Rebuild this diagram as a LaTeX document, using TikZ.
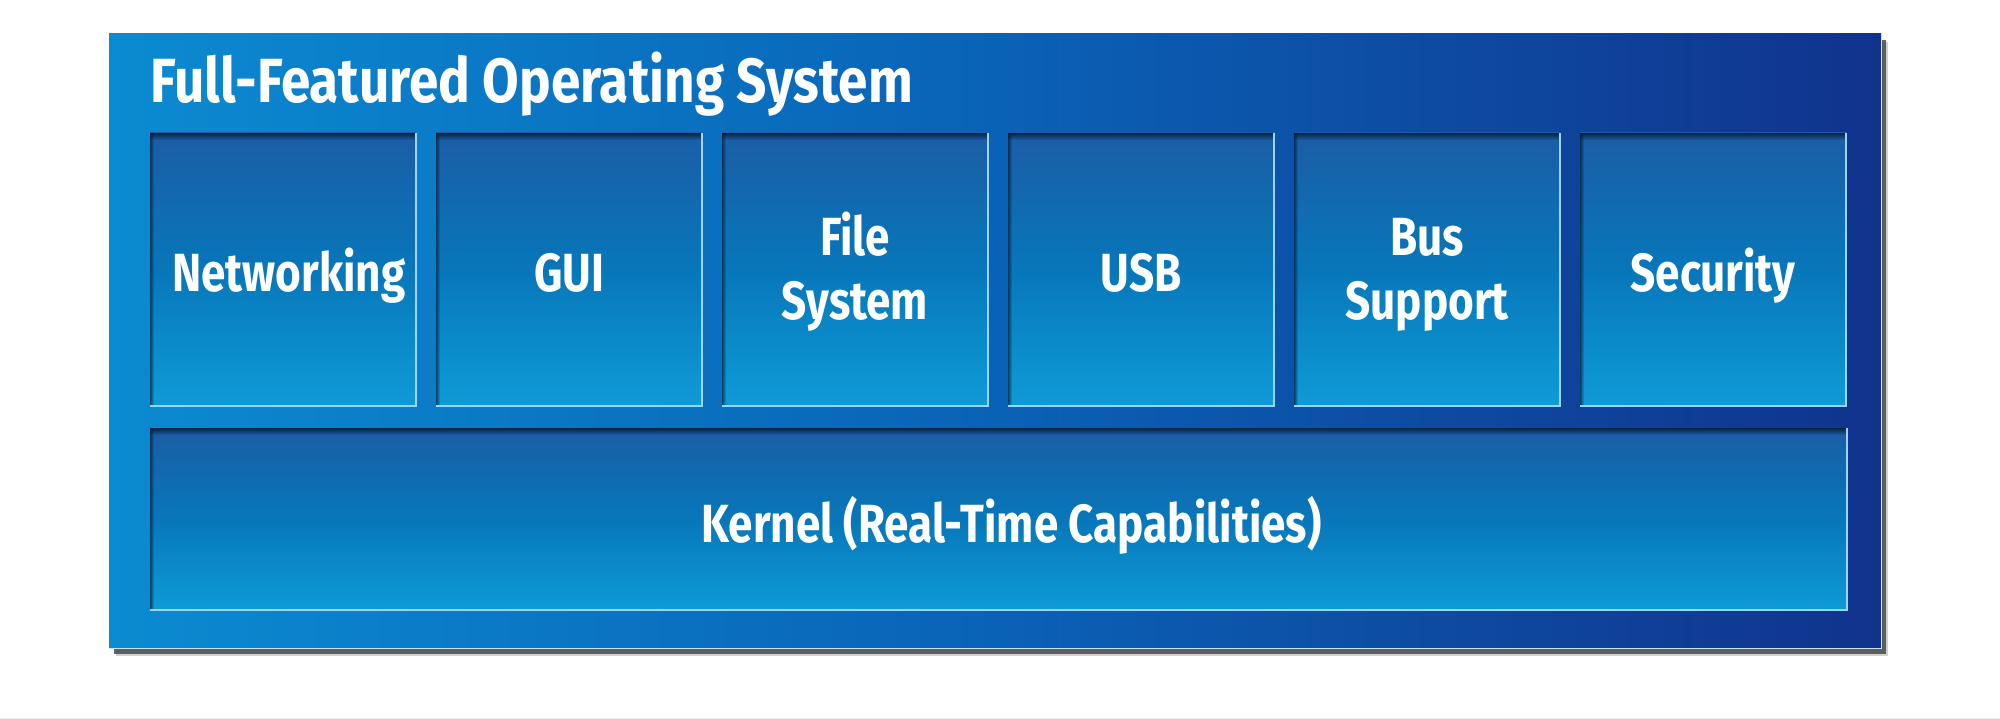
\documentclass[tikz,border=0pt]{standalone}
\usepackage{fontspec}
\newfontfamily\lblfont{Fira Sans}[FakeStretch=0.82]
\newfontfamily\ttlfont{Fira Sans}[FakeStretch=0.85]
\definecolor{outL}{HTML}{0B8BD1}
\definecolor{outM}{HTML}{0A62B7}
\definecolor{outR}{HTML}{11338D}
\definecolor{boxT}{HTML}{1B5DA5}
\definecolor{boxM}{HTML}{0777BA}
\definecolor{boxB}{HTML}{0E9BD7}
\definecolor{edgeL}{HTML}{9FD3F2}
\definecolor{inshadow}{HTML}{021A33}
\definecolor{dropsh}{HTML}{4A4A4A}
\tikzset{
  outerbox/.style={minimum width=1772pt, minimum height=614pt, inner sep=0pt,
    left color=outL, right color=outR, middle color=outM},
  cellbase/.style={inner sep=0pt, top color=boxT, bottom color=boxB, middle color=boxM,
    text=white, font=\lblfont\bfseries\fontsize{53.7}{64}\selectfont, align=center},
  cell/.style={cellbase, minimum width=266pt, minimum height=273pt, text height=45pt, text depth=0pt},
  celltwo/.style={cellbase, minimum width=266pt, minimum height=273pt},
  kernelbox/.style={cellbase, minimum width=1697pt, minimum height=182pt, text height=46pt, text depth=0pt},
  titletext/.style={anchor=base west, inner sep=0pt, text=white,
    font=\ttlfont\bfseries\fontsize{62.4}{70}\selectfont}
}
\newcommand\insetbox[1]{%
  \begin{scope}
    \clip (#1.south west) rectangle (#1.north east);
    \foreach \i in {0,...,6}{
      \pgfmathsetmacro\op{0.85*(1-\i/7)}
      \draw[inshadow, opacity=\op, line width=1pt]
        ([yshift={-(\i+0.5)*1pt}]#1.north west) -- ([yshift={-(\i+0.5)*1pt}]#1.north east);
    }
    \foreach \i in {0,...,3}{
      \pgfmathsetmacro\op{0.7*(1-\i/4)}
      \draw[inshadow, opacity=\op, line width=1pt]
        ([xshift={(\i+0.5)*1pt}]#1.north west) -- ([xshift={(\i+0.5)*1pt}]#1.south west);
    }
  \end{scope}
  \draw[edgeL, line width=1.5pt] (#1.north east) -- (#1.south east) -- (#1.south west);
}
\newcommand\topstrut{\rule{0pt}{48pt}}
\begin{document}
\begin{tikzpicture}[x=1pt, y=-1pt]
\useasboundingbox (0,0) rectangle (2000,719);
\fill[white] (0,0) rectangle (2000,719);
\draw[gray!15, line width=1pt] (0,718) -- (2000,718);
% drop shadow
\fill[dropsh, opacity=0.25] (116,42) rectangle (1888,656);
\fill[dropsh, opacity=0.85] (114,40) rectangle (1886,654);
% outer panel
\node[outerbox] (os) at (995,341) {};
\draw[edgeL!60!white, line width=1pt] (os.north east) -- (os.south east) -- (os.south west);
\node[titletext] (title) at (150,103) {Full-Featured Operating System};
% components
\node[cell]    (net) at (283,269.5)  {\hspace*{12pt}Networking};
\node[cell]    (gui) at (569,269.5)  {GUI};
\node[celltwo] (fs)  at (855,269.5)  {\topstrut File\\System};
\node[cell]    (usb) at (1141,269.5) {USB};
\node[celltwo] (bus) at (1427,269.5) {\topstrut Bus\\Support};
\node[cell]    (sec) at (1713,269.5) {Security};
\node[kernelbox] (kern) at (998.5,519) {\hspace*{26pt}Kernel (Real-Time Capabilities)};
\foreach \n in {net,gui,fs,usb,bus,sec,kern}{\insetbox{\n}}
\end{tikzpicture}
\end{document}
